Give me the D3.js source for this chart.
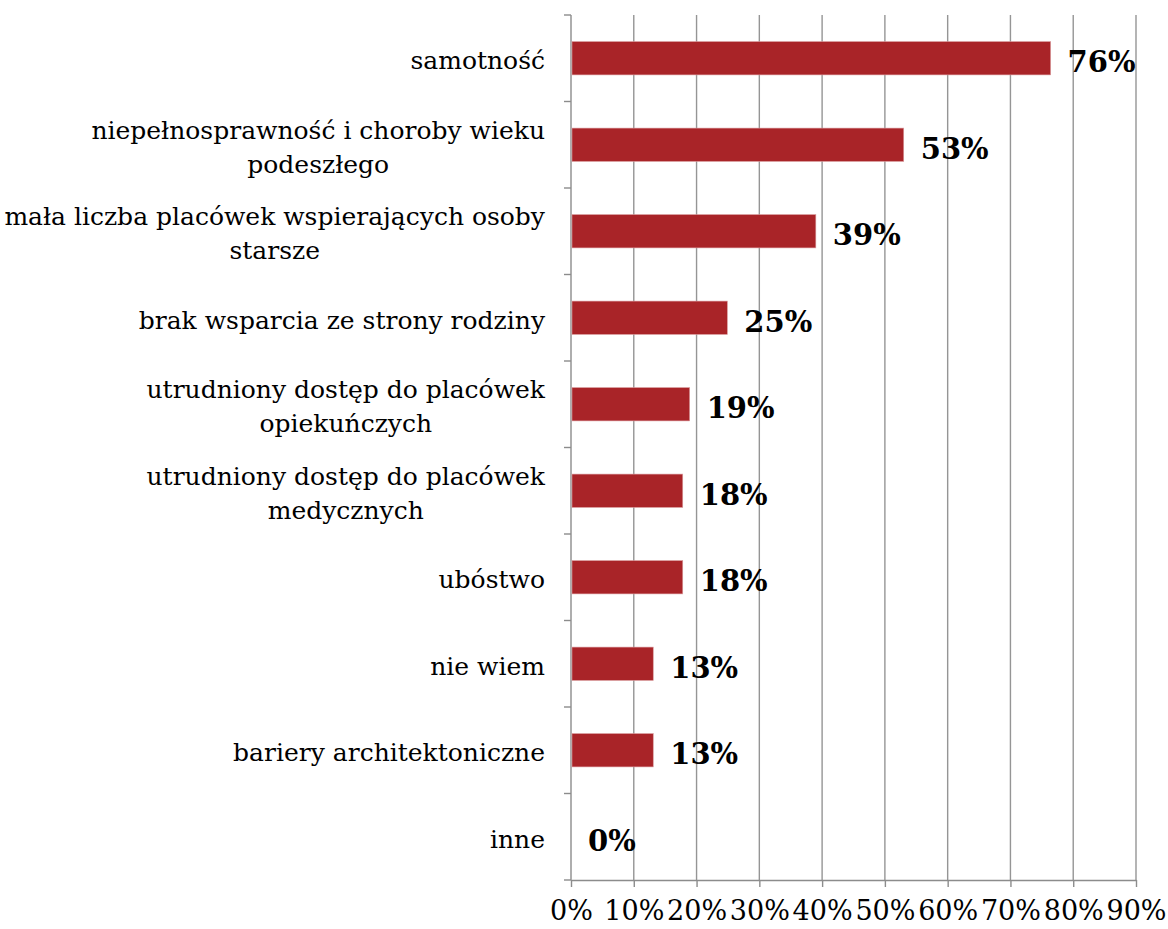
<html>
<script src="https://d3js.org/d3.v7.min.js"></script>
<style>
    body { margin: 0; background: #fff; }
    .grid line { stroke: #959595; stroke-width: 1.4; }
    .axis path, .axis line { fill: none; stroke: #8c8c8c; stroke-width: 1.4; }
    text { font-family: "DejaVu Serif", serif; fill: #000; }
</style>
<body>
<svg id="chart" width="1168" height="929"></svg>
<script>
// categories (top to bottom), lines split where the original wraps them
var categories = [
    ["samotność"],
    ["niepełnosprawność i choroby wieku", "podeszłego"],
    ["mała liczba placówek wspierających osoby", "starsze"],
    ["brak wsparcia ze strony rodziny"],
    ["utrudniony dostęp do placówek", "opiekuńczych"],
    ["utrudniony dostęp do placówek", "medycznych"],
    ["ubóstwo"],
    ["nie wiem"],
    ["bariery architektoniczne"],
    ["inne"]
];
var values = [0.764, 0.53, 0.39, 0.249, 0.189, 0.178, 0.178, 0.131, 0.131, 0];
var valueLabels = ["76%", "53%", "39%", "25%", "19%", "18%", "18%", "13%", "13%", "0%"];
var xTicks = [0, 0.1, 0.2, 0.3, 0.4, 0.5, 0.6, 0.7, 0.8, 0.9];

var margin = {top: 15, right: 32, bottom: 49, left: 571},
    width = 1168 - margin.left - margin.right,
    height = 929 - margin.top - margin.bottom;

var svg = d3.select("#chart")
    .append("g")
    .attr("transform", "translate(" + margin.left + "," + margin.top + ")");

var x = d3.scaleLinear()
    .domain([0, 0.9])
    .range([0, width]);

var y = d3.scaleBand()
    .domain(d3.range(categories.length))
    .range([0, height])
    .padding(0);

var barH = y.bandwidth() * 0.385;

// vertical gridlines
svg.append("g")
    .attr("class", "grid")
    .selectAll("line")
    .data(xTicks.slice(1))
    .enter().append("line")
    .attr("x1", function(d) { return x(d); })
    .attr("x2", function(d) { return x(d); })
    .attr("y1", 0)
    .attr("y2", height);

// x axis
var xAxis = svg.append("g")
    .attr("class", "axis")
    .attr("transform", "translate(0," + height + ")")
    .call(d3.axisBottom(x).tickValues(xTicks).tickFormat(d3.format(".0%")).tickSizeInner(7).tickSizeOuter(0).tickPadding(14));
xAxis.selectAll("text")
    .style("font-family", "DejaVu Serif")
    .style("font-size", "27px")
    .attr("dy", "0.71em");

// y axis: line plus ticks on band boundaries
var yAxis = svg.append("g").attr("class", "axis");
yAxis.append("line")
    .attr("x1", 0).attr("x2", 0)
    .attr("y1", 0).attr("y2", height);
yAxis.selectAll("line.tick")
    .data(d3.range(categories.length + 1))
    .enter().append("line")
    .attr("class", "tick")
    .attr("x1", -7).attr("x2", 0)
    .attr("y1", function(i) { return i * y.step(); })
    .attr("y2", function(i) { return i * y.step(); });

// bars
svg.selectAll("rect.bar")
    .data(values)
    .enter().append("rect")
    .attr("class", "bar")
    .attr("x", 1)
    .attr("y", function(d, i) { return y(i) + (y.bandwidth() - barH) / 2; })
    .attr("width", function(d) { return Math.max(0, x(d) - 1); })
    .attr("height", barH)
    .attr("fill", "#a92428")
    .attr("stroke", "#d99a9c")
    .attr("stroke-width", d => d > 0 ? 0.6 : 0);

// value labels
svg.selectAll("text.val")
    .data(values)
    .enter().append("text")
    .attr("class", "val")
    .attr("x", function(d) { return x(d) + 17; })
    .attr("y", function(d, i) { return y(i) + y.bandwidth() / 2 + 4; })
    .attr("dy", "0.35em")
    .style("font-size", "29px")
    .style("font-weight", "bold")
    .text(function(d, i) { return valueLabels[i]; });

// category labels (block right-aligned, lines centred within block)
categories.forEach(function(lines, i) {
    var g = svg.append("g");
    var lh = 34;
    var cy = y(i) + y.bandwidth() / 2 + 2;
    var t = g.selectAll("text")
        .data(lines)
        .enter().append("text")
        .attr("y", function(d, j) { return cy + (j - (lines.length - 1) / 2) * lh; })
        .attr("dy", "0.35em")
        .style("font-size", "25px")
        .text(function(d) { return d; });
    var widths = [];
    t.each(function() { widths.push(this.getComputedTextLength()); });
    var w = d3.max(widths);
    t.attr("text-anchor", "middle").attr("x", -26 - w / 2);
});
</script>
</body>
</html>
